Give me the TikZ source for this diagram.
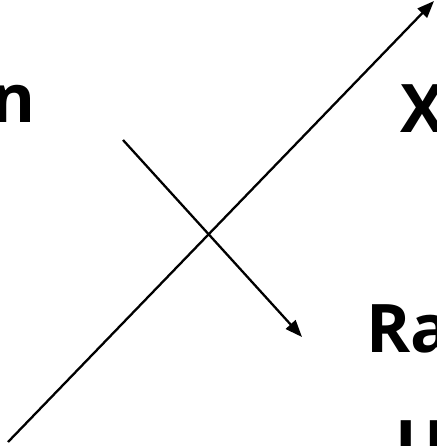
\documentclass[tikz,border=0pt]{standalone}
\usepackage{fontspec}
\setmainfont{Open Sans}
\usepackage{tikz}
\usetikzlibrary{arrows.meta,positioning}

\begin{document}
\begin{tikzpicture}[x=1pt,y=-1pt,lbl/.style={inner sep=0pt,font=\fontsize{67}{67}\selectfont\bfseries},arr/.style={-{Triangle[length=17pt,width=13pt]},line width=2.3pt}]
    \useasboundingbox (0,0) rectangle (436,446);
    \clip (0,0) rectangle (436,446);
    \node[lbl,anchor=base east] (nlab) at (36,123) {n};
    \node[lbl,anchor=base west] (xlab) at (400,133) {X};
    \node[lbl,anchor=base west] (ralab) at (366,352) {Ra};
    \node[lbl,anchor=base west] (ulab) at (395,468) {U};
    \coordinate (lo) at (8,442);
    \coordinate (hi) at (434,1);
    \coordinate (s) at (123,140);
    \coordinate (t) at (302,337);
    \draw[arr] (lo)--(hi);
    \draw[arr] (s)--(t);
  \end{tikzpicture}
\end{document}
